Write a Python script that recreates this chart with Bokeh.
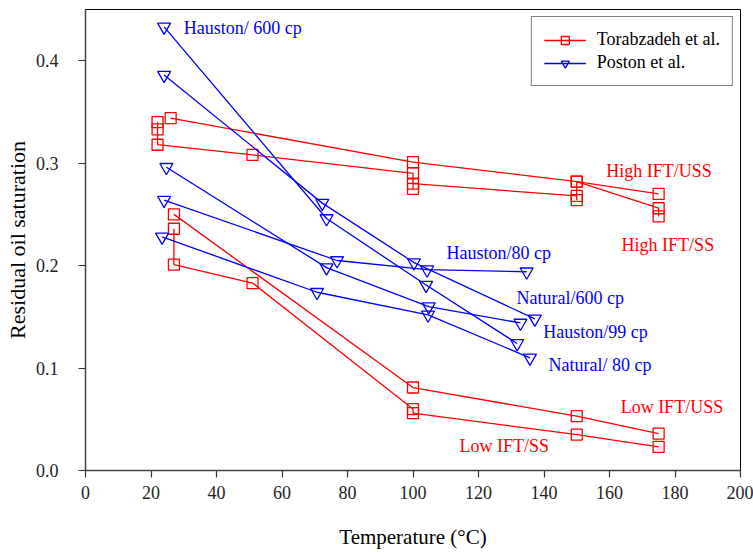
from bokeh.plotting import figure
from bokeh.models import Range1d, FixedTicker, Legend, LegendItem, ColumnDataSource, PrintfTickFormatter
from bokeh.core.properties import value
from bokeh.embed import file_html
from bokeh.resources import INLINE

FONT = "'Liberation Serif', 'Times New Roman', serif"

# ---- data (Torabzadeh et al., red squares) ----
high_uss_x = [26, 100, 150, 175]
high_uss_y = [0.344, 0.301, 0.282, 0.270]
high_ss_x = [22, 22, 22, 51, 100, 100, 100, 150, 150, 150, 175, 175]
high_ss_y = [0.340, 0.333, 0.318, 0.308, 0.290, 0.275, 0.280, 0.268, 0.264, 0.282, 0.256, 0.248]
low_uss_x = [27, 100, 150, 175]
low_uss_y = [0.250, 0.081, 0.053, 0.036]
low_ss_x = [27, 27, 51, 100, 100, 150, 175]
low_ss_y = [0.236, 0.201, 0.183, 0.060, 0.056, 0.035, 0.023]

# ---- data (Poston et al., blue inverted triangles) ----
hauston600_x = [24, 73.6, 104, 131.8]
hauston600_y = [0.433, 0.246, 0.181, 0.124]
natural600_x = [24, 72.3, 100.3, 137.2]
natural600_y = [0.386, 0.261, 0.203, 0.148]
hauston99_x = [24.7, 73.6, 104.8, 132.8]
hauston99_y = [0.296, 0.198, 0.160, 0.144]
hauston80_x = [24, 76.8, 104.3, 134.7]
hauston80_y = [0.264, 0.205, 0.196, 0.194]
natural80_x = [23.4, 70.7, 104.6, 135.7]
natural80_y = [0.228, 0.174, 0.152, 0.110]

# ---- annotation labels ----
blue_labels = ["Hauston/ 600 cp", "Hauston/80 cp", "Natural/600 cp", "Hauston/99 cp", "Natural/ 80 cp"]
blue_label_x = [30, 110.2, 131.6, 139.8, 141.4]
blue_label_y = [0.432, 0.212, 0.168, 0.135, 0.1026]
red_labels = ["High IFT/USS", "High IFT/SS", "Low IFT/USS", "Low IFT/SS"]
red_label_x = [159, 163.7, 163.4, 114.2]
red_label_y = [0.292, 0.220, 0.0616, 0.0235]

x_ticks = [0, 20, 40, 60, 80, 100, 120, 140, 160, 180, 200]
y_ticks = [0.0, 0.1, 0.2, 0.3, 0.4]

RED = "#ff0000"
BLUE = "#0000ff"

p = figure(width=753, height=555, output_backend="svg", toolbar_location=None,
           x_range=Range1d(0, 200), y_range=Range1d(0, 0.45),
           min_border_left=85, min_border_right=13, min_border_top=9, min_border_bottom=85)
p.grid.visible = False
p.outline_line_color = "black"
p.outline_line_width = 1
p.background_fill_color = "white"
p.border_fill_color = "white"

for ax in (p.xaxis[0], p.yaxis[0]):
    ax.axis_line_color = "#444444"
    ax.axis_line_width = 1.5
    ax.major_tick_line_color = "#333333"
    ax.major_tick_line_width = 1.2
    ax.major_tick_out = 7
    ax.major_tick_in = 0
    ax.minor_tick_line_color = None
    ax.major_label_text_font = FONT
    ax.major_label_text_font_size = "18px"
    ax.major_label_text_color = "#222222"
    ax.axis_label_text_font = FONT
    ax.axis_label_text_font_style = "normal"
    ax.axis_label_text_color = "black"

p.xaxis.axis_label_text_font_size = "21px"
p.yaxis.axis_label_text_font_size = "22px"
p.xaxis.ticker = FixedTicker(ticks=x_ticks)
p.yaxis.ticker = FixedTicker(ticks=y_ticks)
p.yaxis.formatter = PrintfTickFormatter(format="%.1f")
p.xaxis.axis_label = "Temperature (°C)"
p.yaxis.axis_label = "Residual oil saturation"
p.xaxis.major_label_standoff = 8
p.yaxis.major_label_standoff = 20
p.xaxis.axis_label_standoff = 23
p.yaxis.axis_label_standoff = 3

legend_items = []

def series(xs, ys, color, marker, size, name=None):
    src = ColumnDataSource(dict(x=xs, y=ys))
    l = p.line("x", "y", source=src, line_color=color, line_width=1.3)
    s = p.scatter("x", "y", source=src, marker=marker, size=size, line_color=color,
                  fill_alpha=0, line_width=1.3)
    if name:
        legend_items.append(LegendItem(label=name, renderers=[l, s]))

series(high_uss_x, high_uss_y, RED, "square", 11, "Torabzadeh et al.")
series(high_ss_x, high_ss_y, RED, "square", 11)
series(low_uss_x, low_uss_y, RED, "square", 11)
series(low_ss_x, low_ss_y, RED, "square", 11)

series(hauston600_x, hauston600_y, BLUE, "inverted_triangle", 13, "Poston et al.")
series(natural600_x, natural600_y, BLUE, "inverted_triangle", 13)
series(hauston99_x, hauston99_y, BLUE, "inverted_triangle", 13)
series(hauston80_x, hauston80_y, BLUE, "inverted_triangle", 13)
series(natural80_x, natural80_y, BLUE, "inverted_triangle", 13)

p.text(x=blue_label_x, y=blue_label_y, text=blue_labels, text_color=BLUE,
       text_font=value(FONT), text_font_size="18px", text_align="left", text_baseline="middle")
p.text(x=red_label_x, y=red_label_y, text=red_labels, text_color=RED,
       text_font=value(FONT), text_font_size="18px", text_align="left", text_baseline="middle")

legend = Legend(items=legend_items, location="top_right")
legend.margin = 7
legend.padding = 12
legend.spacing = 2
legend.glyph_width = 42
legend.glyph_height = 20
legend.label_standoff = 11
legend.label_text_font = FONT
legend.label_text_font_size = "18px"
legend.label_text_color = "black"
legend.border_line_color = "black"
legend.border_line_width = 1.2
legend.background_fill_alpha = 1
p.add_layout(legend)

open("out.html", "w").write(file_html(p, INLINE))
